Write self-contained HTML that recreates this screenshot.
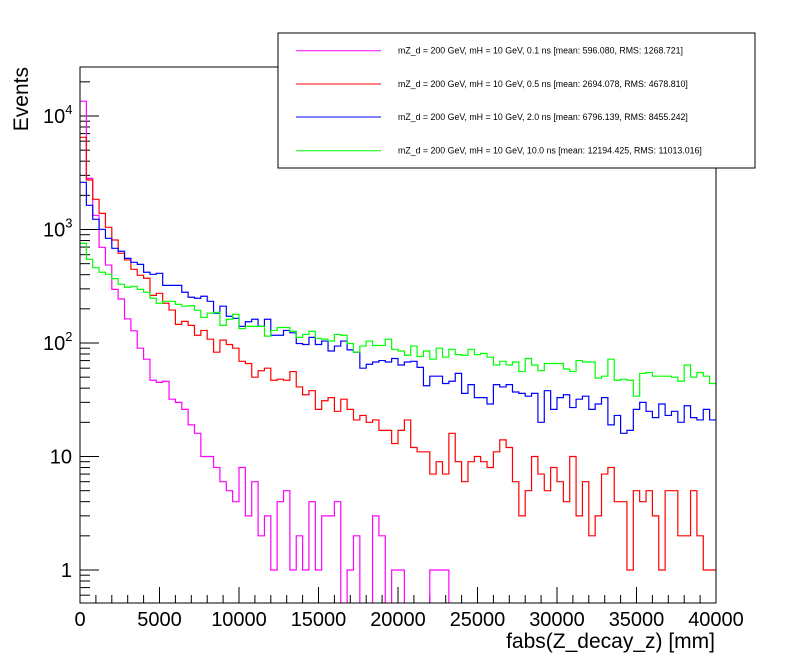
<!DOCTYPE html>
<html><head><meta charset="utf-8"><style>
html,body{margin:0;padding:0;background:#fff;}
svg{display:block;font-family:"Liberation Sans",Arial,sans-serif;}
</style></head><body>
<svg id="chart" width="796" height="672" viewBox="0 0 796 672">
<defs><clipPath id="frameclip"><rect x="80" y="67" width="636" height="536"/></clipPath></defs>
<rect x="0" y="0" width="796" height="672" fill="#fff"/>
<g id="axes"></g>
<g id="series" clip-path="url(#frameclip)"></g>
<rect x="80" y="67" width="636" height="536" fill="none" stroke="#000" stroke-width="1"/>
<text x="715" y="648" font-size="21" text-anchor="end">fabs(Z_decay_z) [mm]</text>
<text transform="translate(28,67) rotate(-90)" font-size="21" text-anchor="end">Events</text>
<g>
<rect x="278" y="33" width="477" height="135" fill="#fff" stroke="#000" stroke-width="1"/>
<g id="legend-entries"></g>
</g>
</svg>
<script>
const binEdgesMin = 0, binEdgesMax = 40000, nBins = 100;
const yTickValues = [1, 10, 100, 1000, 10000];
const xTickLabels = ["0","5000","10000","15000","20000","25000","30000","35000","40000"];
const seriesNames = ["mZ_d = 200 GeV, mH = 10 GeV, 0.1 ns [mean: 596.080, RMS: 1268.721]",
 "mZ_d = 200 GeV, mH = 10 GeV, 0.5 ns [mean: 2694.078, RMS: 4678.810]",
 "mZ_d = 200 GeV, mH = 10 GeV, 2.0 ns [mean: 6796.139, RMS: 8455.242]",
 "mZ_d = 200 GeV, mH = 10 GeV, 10.0 ns [mean: 12194.425, RMS: 11013.016]"];
const seriesColors = ["#ff00ff","#ff0000","#0000ff","#00ff00"];
const ns01 = [13500,2820,1334,697,486,297,244,163,128,90,72,47,45,46,32,30,26,19,16,10,10,8,6,5,4,8,3,6,2,3,1,4,5,1,2,1,4,1,3,3,4,0,1,2,0,0,3,2,0,1,1,0,0,0,0,1,1,1,0,0,0,0,0,0,0,0,0,0,0,0,0,0,0,0,0,0,0,0,0,0,0,0,0,0,0,0,0,0,0,0,0,0,0,0,0,0,0,0,0,0];
const ns05 = [6490,2730,1845,1388,1045,808,617,539,446,395,372,263,274,224,195,146,155,143,117,129,108,83,106,97,90,69,66,50,
 57,60,47,48,47,56,41,35,38,26,31,33,25,32,26,21,23,20,21,17,17,13,17,21,12,11,11,7,9,7,16,9,6,9,10,9,8,
 11,14,12,6,3,5,10,7,5,8,6,4,10,3,6,2,3,7,8,4,4,1,5,4,5,3,1,5,5,2,2,5,2,1,1];
const ns20 = [2605,1634,1230,1004,836,683,643,557,514,493,420,403,411,322,322,322,280,253,248,258,233,183,211,172,165,140,
 154,162,140,162,117,117,129,123,99,97,112,97,104,85,94,104,87,83,60,65,68,70,68,73,64,68,69,61,42,51,51,44,46,54,36,43,33,
 33,29,43,41,43,37,36,34,36,20,38,26,33,35,27,32,34,26,29,33,19,23,16,17,26,30,25,22,29,23,25,20,28,22,21,26,21];
const ns100 = [755,546,461,420,403,369,329,310,316,297,280,248,224,233,233,219,211,213,194,168,183,186,143,162,179,134,140,
 140,140,115,129,137,137,127,112,119,127,110,108,104,119,117,99,83,94,104,95,95,108,88,85,78,94,76,85,72,90,75,88,79,78,88,79,
 81,75,64,69,64,68,56,73,64,57,66,66,66,59,56,70,68,68,49,51,72,47,48,47,34,54,55,51,51,51,50,46,64,50,55,51,44];

const X0=80,X1=716,Y0=603,Y1=67;
function xs(v){return X0+(v-binEdgesMin)/(binEdgesMax-binEdgesMin)*(X1-X0);}
function ys(v){if(v<=0) return Y0+5; return 570-113.5*Math.log10(v);}
const NS="http://www.w3.org/2000/svg";
function mk(tag,attrs,parent){const e=document.createElementNS(NS,tag);for(const k in attrs)e.setAttribute(k,attrs[k]);parent.appendChild(e);return e;}
const axes=document.getElementById('axes');
for(let v=0; v<=40000; v+=1000){
  const major=(v%5000===0);
  const t=mk('line',{x1:xs(v),x2:xs(v),y1:Y0,y2:Y0-(major?16:8),stroke:'#000','stroke-width':1},axes);
  
  
}
xTickLabels.forEach((lab,i)=>{
  const t=mk('text',{x:xs(Number(lab)),y:626,'font-size':20,'text-anchor':'middle'},axes);
  t.textContent=lab;
  
  
});
for(let d=-1; d<=4; d++){
  for(let m=1;m<=9;m++){
    const v=m*Math.pow(10,d);
    const y=ys(v);
    if(y>Y0||y<Y1) continue;
    const t=mk('line',{x1:X0,x2:X0+(m===1?19:10),y1:y,y2:y,stroke:'#000','stroke-width':1},axes);
    
    
  }
}
yTickValues.forEach(v=>{
  const y=ys(v);
  const t=mk('text',{x:v>=100?43:72,y:y+7,'font-size':20,'text-anchor':v>=100?'start':'end'},axes);
  if(v>=100){
    t.textContent='10';
    const s=mk('tspan',{dy:-9,'font-size':13},t);
    s.textContent=String(Math.round(Math.log10(v)));
  } else t.textContent=String(v);
  
  
});
const allSeries=[ns01,ns05,ns20,ns100];
const sg=document.getElementById('series');
const bw=(binEdgesMax-binEdgesMin)/nBins;
allSeries.forEach((arr,si)=>{
  let d='M'+xs(binEdgesMin)+' '+ys(arr[0]);
  for(let i=0;i<arr.length;i++){
    if(i>0) d+=' V'+ys(arr[i]).toFixed(2);
    d+=' H'+xs(binEdgesMin+(i+1)*bw).toFixed(2);
  }
  const p=mk('path',{d:d,fill:'none',stroke:seriesColors[si],'stroke-width':1.2},sg);
  
  
});
const lg=document.getElementById('legend-entries');
const legYs=[50.7,84,117,150.7];
seriesNames.forEach((n,i)=>{
  const l=mk('line',{x1:296,x2:381,y1:legYs[i],y2:legYs[i],stroke:seriesColors[i],'stroke-width':1},lg);
  
  
  const t=mk('text',{x:398,y:legYs[i]+3,'font-size':8.8},lg);
  t.textContent=n;
  
  
});
</script>
</body></html>
